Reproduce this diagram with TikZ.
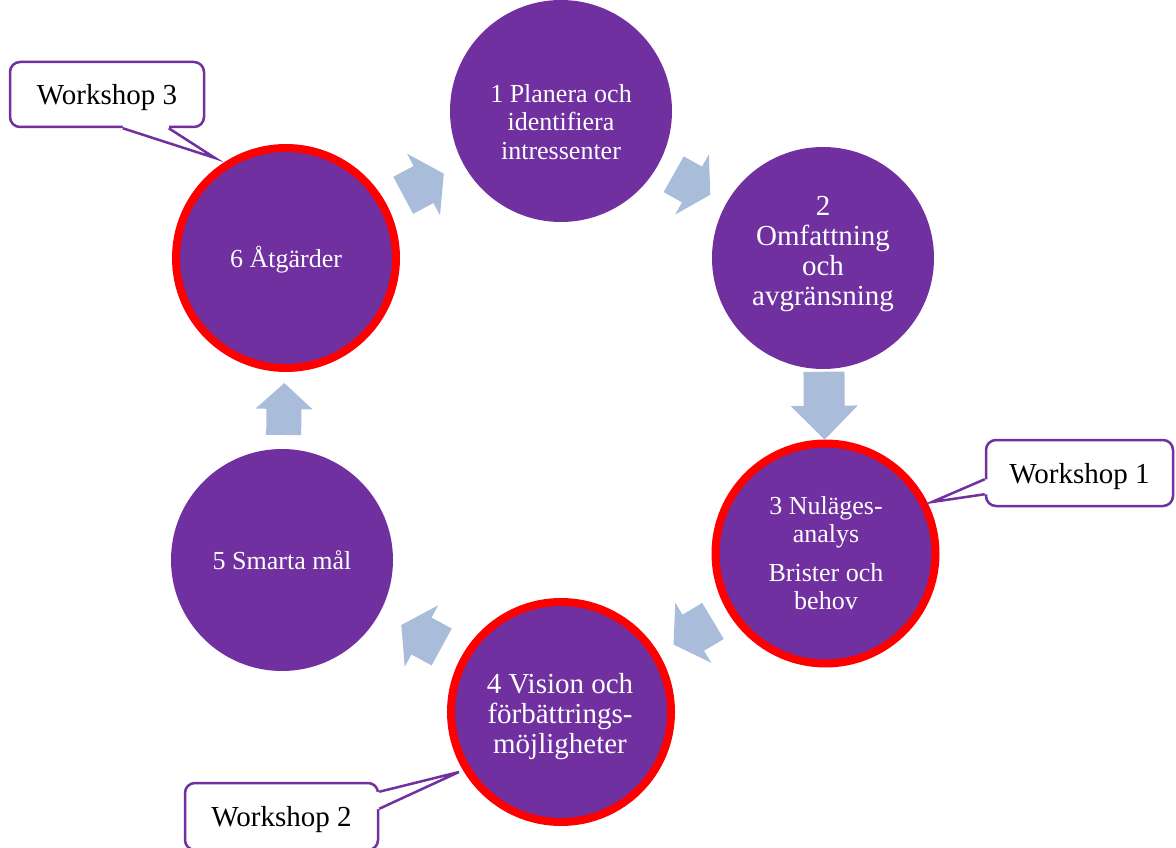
\documentclass[tikz,border=0pt]{standalone}
\usepackage{fontspec}
\setmainfont{Liberation Serif}
\usetikzlibrary{calc}

\definecolor{stageviolet}{RGB}{112,48,160}
\definecolor{flowblue}{RGB}{169,189,219}
\definecolor{markred}{RGB}{255,0,0}

\tikzset{
  stage/.style={circle, fill=stageviolet, minimum size=222pt, inner sep=0pt},
  keystage/.style={stage, draw=markred, line width=8pt, minimum size=220pt},
  stagetext/.style={text=white, align=center, inner sep=0pt, font=\fontsize{26}{28.5}\selectfont},
  stagetextlarge/.style={stagetext, font=\fontsize{29}{30}\selectfont},
  note/.style={draw=stageviolet, line width=2.5pt, fill=white, rounded corners=10pt,
    inner sep=0pt, text depth=0pt, font=\fontsize{29}{30}\selectfont},
  notetail/.style={draw=stageviolet, line width=2.5pt, line join=miter},
  flowfill/.style={fill=flowblue},
}

% block arrow halfway between two stages: length, shaft width, head width
\newcommand\flowarrow[5]{%
  \pgfmathanglebetweenpoints{\pgfpointanchor{#1}{center}}{\pgfpointanchor{#2}{center}}%
  \let\flowangle\pgfmathresult
  \fill[flowfill, shift={($(#1.center)!0.5!(#2.center)$)}, rotate=\flowangle]
    (-#3/2,-#4/2) -- (0,-#4/2) -- (0,-#5/2) -- (#3/2,0) -- (0,#5/2)
    -- (0,#4/2) -- (-#3/2,#4/2) -- cycle;
}

\begin{document}
\begin{tikzpicture}[x=1pt, y=-1pt]
\useasboundingbox (0,0) rectangle (1176,848);

% the six stages of the cycle
\node[stage]    (c1) at (561,111) {};
\node[stage]    (c2) at (823,258) {};
\node[keystage] (c3) at (825.5,553.5) {};
\node[keystage] (c4) at (561,712) {};
\node[stage]    (c5) at (282,560) {};
\node[keystage] (c6) at (286,258) {};

\node[stagetext]      (c1text) at (561,122) {1 Planera och\\identifiera\\intressenter};
\node[stagetextlarge] (c2text) at (823,254) {2\\Omfattning\\och\\avgränsning};
\node[stagetext]      (c3text) at (826,553) {3 Nuläges-\\analys\\[10pt]Brister och\\behov};
\node[stagetextlarge] (c4text) at (560,717) {4 Vision och\\förbättrings-\\möjligheter};
\node[stagetext]      (c5text) at (282,560) {5 Smarta mål};
\node[stagetext]      (c6text) at (286,260) {6 Åtgärder};

% arrows around the cycle
\flowarrow{c6}{c1}{46}{42}{70}
\flowarrow{c1}{c2}{42}{41}{69}
\flowarrow{c2}{c3}{68}{41}{67}
\flowarrow{c3}{c4}{46}{42}{70}
\flowarrow{c4}{c5}{46}{42}{70}
\flowarrow{c5}{c6}{52}{35}{57}

% workshop callouts
\node[note, minimum width=194pt, minimum height=65pt] (w3) at (107,94.5) {Workshop 3};
\node[note, minimum width=187pt, minimum height=66pt] (w1) at (1079.5,473) {Workshop 1};
\node[note, minimum width=193pt, minimum height=67pt] (w2) at (281.5,816.5) {Workshop 2};

\coordinate (w3tip) at (215,158);
\coordinate (w1tip) at (932,502);
\coordinate (w2tip) at (459,772);

\fill[white] ($(w3.south west)+(114,-4)$) -- ($(w3.south west)+(114,0)$) -- (w3tip)
  -- ($(w3.south west)+(160,0)$) -- ($(w3.south west)+(160,-4)$) -- cycle;
\draw[notetail] ($(w3.south west)+(114,0)$) -- (w3tip) -- ($(w3.south west)+(160,0)$);

\fill[white] ($(w1.south west)+(4,-28)$) -- ($(w1.south west)+(0,-28)$) -- (w1tip)
  -- ($(w1.south west)+(0,-13)$) -- ($(w1.south west)+(4,-13)$) -- cycle;
\draw[notetail] ($(w1.south west)+(0,-28)$) -- (w1tip) -- ($(w1.south west)+(0,-13)$);

\fill[white] ($(w2.north east)+(-4,10)$) -- ($(w2.north east)+(0,10)$) -- (w2tip)
  -- ($(w2.north east)+(0,27)$) -- ($(w2.north east)+(-4,27)$) -- cycle;
\draw[notetail] ($(w2.north east)+(0,10)$) -- (w2tip) -- ($(w2.north east)+(0,27)$);
\end{tikzpicture}
\end{document}
